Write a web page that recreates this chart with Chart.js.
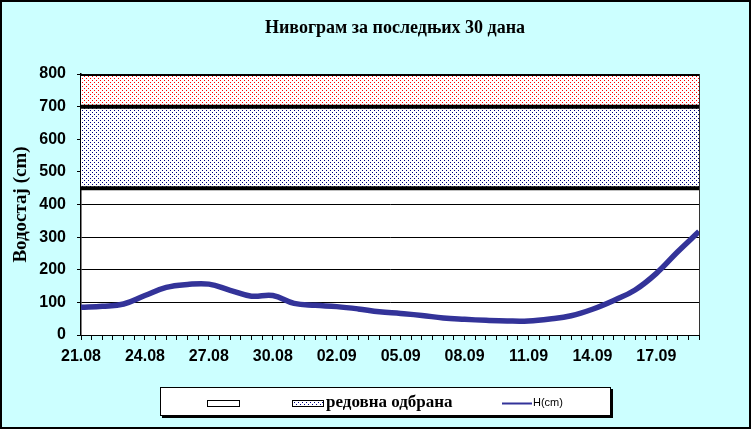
<!DOCTYPE html>
<html>
<head>
<meta charset="utf-8">
<script src="https://cdn.jsdelivr.net/npm/chart.js@4.4.4/dist/chart.umd.min.js"></script>
<style>
    body { margin: 0; background: #fff; }
    #wrap { width: 751px; height: 429px; }
</style>
</head>
<body>
<div id="wrap"><canvas id="nivogram" width="751" height="429"></canvas></div>
<script>
// Datumi i vodostaj (cm), jedno merenje dnevno
const dates = ['21.08', '22.08', '23.08', '24.08', '25.08', '26.08', '27.08', '28.08', '29.08', '30.08',
    '31.08', '01.09', '02.09', '03.09', '04.09', '05.09', '06.09', '07.09', '08.09', '09.09',
    '10.09', '11.09', '12.09', '13.09', '14.09', '15.09', '16.09', '17.09', '18.09', '19.09'];
const vodostaj = [85, 88, 95, 121, 146, 155, 156, 137, 119, 121,
    97, 91, 87, 80, 71, 66, 60, 52, 48, 45,
    43, 43, 49, 59, 79, 106, 138, 189, 255, 317];
// granice zona odbrane
const granice = [450, 700, 800];
const yTicks = [0, 100, 200, 300, 400, 500, 600, 700, 800];

const title = 'Нивограм за последњих 30 дана';
const yTitle = 'Водостај (cm)';

// Dotted fill patterns
function dotPattern(color) {
    const c = document.createElement('canvas');
    c.width = 4; c.height = 4;
    const g = c.getContext('2d');
    g.fillStyle = '#fff';
    g.fillRect(0, 0, 4, 4);
    g.fillStyle = color;
    g.fillRect(0, 0, 1, 1);
    g.fillRect(2, 2, 1, 1);
    return g.createPattern(c, 'repeat');
}
const bluePattern = dotPattern('#000080');
const redPattern = dotPattern('#FF0000');

const level = v => dates.map((d, i) => ({ x: i, y: v }));

// Background, plot area, title, legend
const frame = {
    id: 'frame',
    beforeDraw(chart) {
        const { ctx, chartArea: a } = chart;
        ctx.save();
        ctx.fillStyle = '#CCFFFF';
        ctx.fillRect(0, 0, chart.width, chart.height);
        ctx.strokeStyle = '#000';
        ctx.lineWidth = 2;
        ctx.strokeRect(1, 1, chart.width - 2, chart.height - 2);
        ctx.fillStyle = '#fff';
        ctx.fillRect(a.left, a.top, a.right - a.left, a.bottom - a.top);
        ctx.fillStyle = '#000';
        ctx.font = 'bold 18px "Liberation Serif"';
        ctx.textAlign = 'center';
        ctx.textBaseline = 'middle';
        ctx.fillText(title, 395, 28);
        ctx.restore();
    },
    afterDatasetsDraw(chart) {
        const { ctx, chartArea: a } = chart;
        ctx.save();
        ctx.strokeStyle = '#333';
        ctx.lineWidth = 1;
        ctx.beginPath();
        ctx.moveTo(a.right + 0.5, a.top);
        ctx.lineTo(a.right + 0.5, a.bottom);
        ctx.stroke();
        ctx.restore();
    },
    afterDraw(chart) {
        const { ctx } = chart;
        const ds = chart.data.datasets;
        ctx.save();
        // legend box with shadow
        ctx.fillStyle = '#000';
        ctx.fillRect(162, 389, 451, 29);
        ctx.fillStyle = '#fff';
        ctx.fillRect(160, 387, 451, 29);
        ctx.strokeStyle = '#000';
        ctx.lineWidth = 1;
        ctx.strokeRect(160.5, 387.5, 450, 28);
        // item 1: empty box
        ctx.strokeRect(207.5, 400.5, 32, 6);
        // item 2: pattern box
        ctx.fillStyle = bluePattern;
        ctx.fillRect(293, 400, 31, 7);
        ctx.strokeRect(292.5, 400.5, 31, 6);
        ctx.fillStyle = '#000';
        ctx.font = 'bold 17px "Liberation Serif"';
        ctx.textBaseline = 'middle';
        ctx.textAlign = 'left';
        ctx.fillText(ds[1].label, 326, 403);
        // item 3: line
        ctx.strokeStyle = '#333399';
        ctx.lineWidth = 2;
        ctx.beginPath();
        ctx.moveTo(502, 403.5);
        ctx.lineTo(532, 403.5);
        ctx.stroke();
        ctx.font = '11px "Liberation Sans"';
        ctx.fillText(ds[3].label, 533, 403);
        ctx.restore();
    }
};

new Chart(document.getElementById('nivogram'), {
    type: 'line',
    data: {
        datasets: [
            {
                label: '',
                data: level(granice[0]),
                borderColor: '#000',
                borderWidth: 4,
                pointRadius: 0,
                fill: false,
                order: 1
            },
            {
                label: 'редовна одбрана',
                data: level(granice[1]),
                borderColor: '#000',
                borderWidth: 4,
                pointRadius: 0,
                backgroundColor: bluePattern,
                fill: '-1',
                order: 1
            },
            {
                label: 'ванредна одбрана',
                data: level(granice[2]),
                borderColor: '#000',
                borderWidth: 4,
                pointRadius: 0,
                backgroundColor: redPattern,
                fill: '-1',
                order: 1
            },
            {
                label: 'H(cm)',
                data: vodostaj.map((v, i) => ({ x: i, y: v })),
                borderColor: '#333399',
                borderWidth: 5.5,
                pointRadius: 0,
                tension: 0.4,
                fill: false,
                order: 0
            }
        ]
    },
    options: {
        responsive: false,
        animation: false,
        layout: { padding: { top: 74, right: 52, left: 0, bottom: 0 } },
        plugins: {
            legend: { display: false },
            title: { display: false },
            tooltip: { enabled: false }
        },
        scales: {
            x: {
                type: 'linear',
                min: 0,
                max: dates.length - 1,
                afterFit: s => { s.height = 94; },
                afterBuildTicks: s => {
                    s.ticks = [];
                    for (let i = 0; i <= (dates.length - 1) * 2; i++) s.ticks.push({ value: i / 2 });
                },
                grid: { drawOnChartArea: false, color: '#000', tickLength: 5 },
                border: { color: '#000', width: 1 },
                ticks: {
                    autoSkip: false,
                    maxRotation: 0,
                    padding: 7,
                    color: '#000',
                    font: { family: '"Liberation Sans"', size: 16, weight: 'bold' },
                    callback: v => (Number.isInteger(v) && v % 3 === 0) ? dates[v] : ''
                }
            },
            y: {
                min: yTicks[0],
                max: yTicks[yTicks.length - 1],
                afterFit: s => { s.width = 81; },
                afterBuildTicks: s => { s.ticks = yTicks.map(v => ({ value: v })); },
                grid: { color: '#000', lineWidth: 1, tickLength: 4 },
                border: { color: '#000', width: 1.5 },
                ticks: {
                    padding: 11,
                    color: '#000',
                    font: { family: '"Liberation Sans"', size: 16, weight: 'bold' }
                },
                title: {
                    display: true,
                    text: yTitle,
                    color: '#000',
                    padding: { top: 10, bottom: 0 },
                    font: { family: '"Liberation Serif"', size: 19, weight: 'bold' }
                }
            }
        }
    },
    plugins: [frame]
});
</script>
</body>
</html>
